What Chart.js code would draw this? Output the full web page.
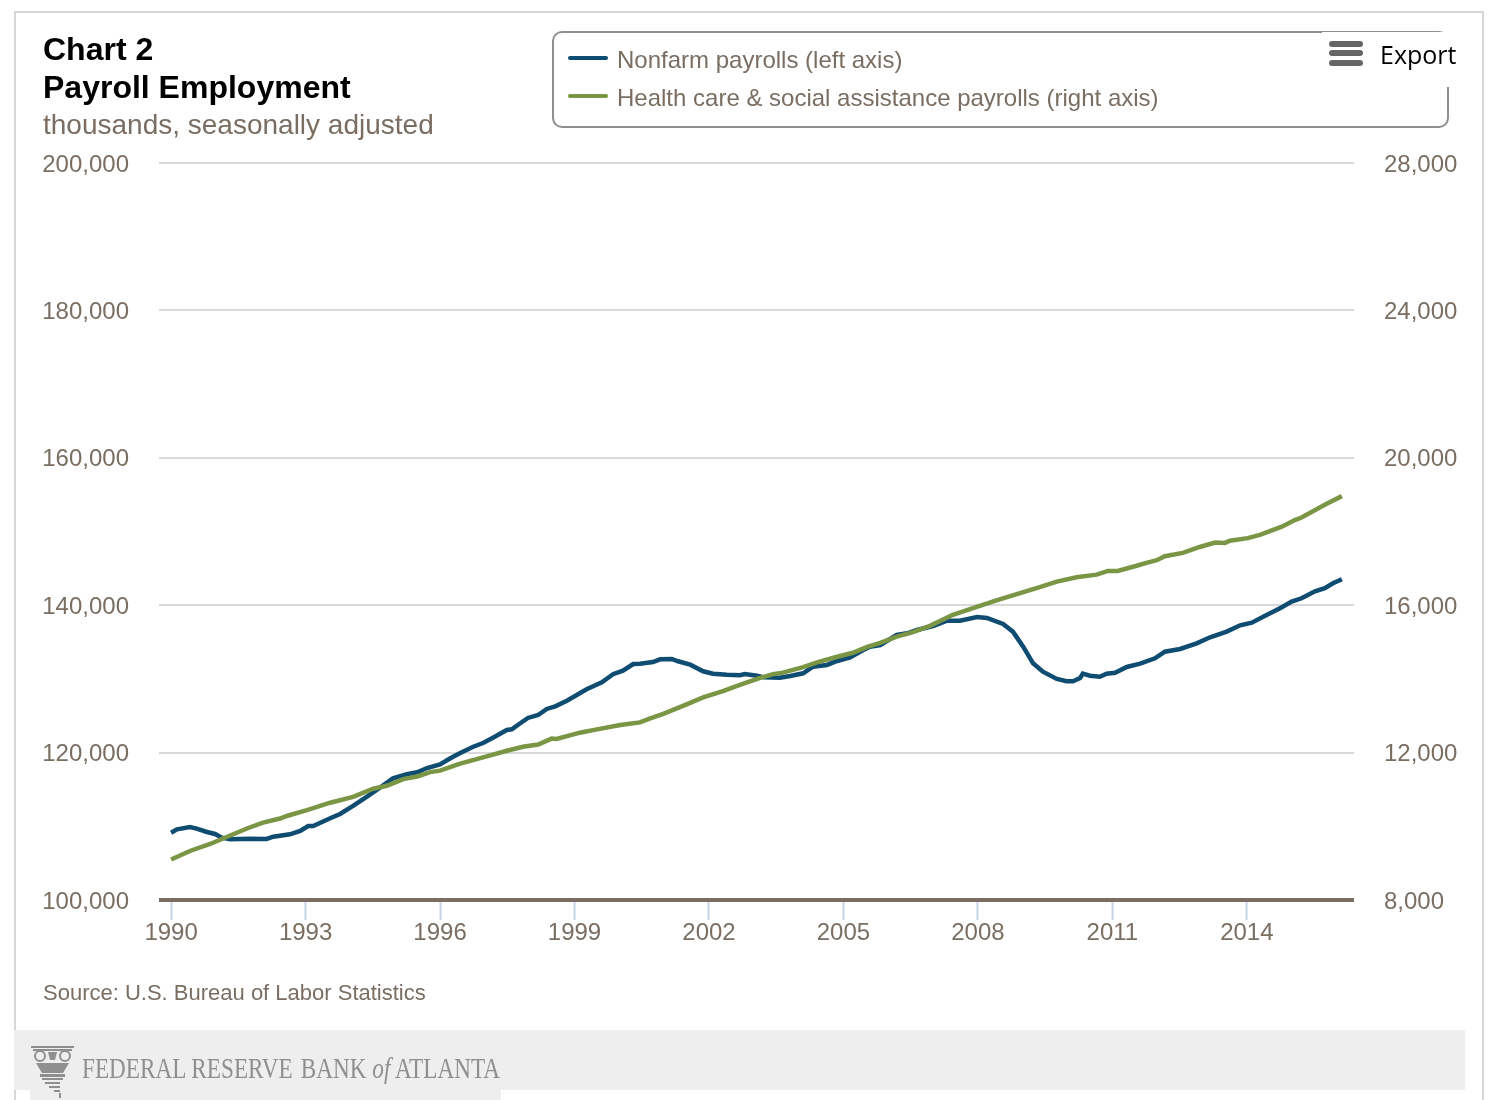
<!DOCTYPE html>
<html>
<head>
<meta charset="utf-8">
<title>Payroll Employment</title>
<script src="https://cdn.jsdelivr.net/npm/chart.js@4/dist/chart.umd.min.js"></script>
<style>
  html, body { margin: 0; padding: 0; background: #fff; }
  #page { position: relative; width: 1492px; height: 1100px; overflow: hidden; font-family: "Liberation Sans", Arial, sans-serif; color: #7a6e62; }
  #page canvas { position: absolute; left: 0; top: 0; }
  .txt { position: absolute; white-space: nowrap; line-height: 1; }
  .frame { position: absolute; background: #d6d6d6; }
  #legendBox { position: absolute; left: 552px; top: 31px; width: 893px; height: 93px; border: 2px solid #8f8f8f; border-radius: 10px; }
  #exportMask { position: absolute; left: 1322px; top: 32px; width: 130px; height: 55px; background: #fff; }
  .swatch { position: absolute; left: 568px; width: 40px; height: 4px; border-radius: 2px; }
  .bar { position: absolute; left: 1329px; width: 34px; height: 6px; border-radius: 3px; background: #666; }
  #band { position: absolute; left: 14px; top: 1030px; width: 1451px; height: 60px; background: #eeeeee; }
  #bandTab { position: absolute; left: 30px; top: 1090px; width: 471px; height: 10px; background: #eeeeee; }
  #wordmark { transform: scaleX(0.8); transform-origin: left center; }
</style>
</head>
<body>
<div id="page">
  <div class="frame" style="left:14px;top:11px;width:1470px;height:2px"></div>
  <div class="frame" style="left:14px;top:11px;width:2px;height:1089px"></div>
  <div class="frame" style="left:1482px;top:11px;width:2px;height:1089px"></div>
  <div id="band"></div>
  <div id="bandTab"></div>

  <canvas id="chart" width="1492" height="1100"></canvas>

  <div class="txt" style="left:43px;top:33px;font-size:32px;font-weight:700;color:#000">Chart 2</div>
  <div class="txt" style="left:43px;top:71px;font-size:32px;font-weight:700;color:#000">Payroll Employment</div>
  <div class="txt" style="left:43px;top:111px;font-size:28px">thousands, seasonally adjusted</div>

  <div id="legendBox"></div>
  <div class="swatch" id="swatchA" style="top:56px"></div>
  <div class="swatch" id="swatchB" style="top:94px"></div>
  <div class="txt" id="labelA" style="left:617px;top:48px;font-size:24px"></div>
  <div class="txt" id="labelB" style="left:617px;top:86px;font-size:24px"></div>

  <div id="exportMask"></div>
  <div class="bar" style="top:41px"></div>
  <div class="bar" style="top:50px"></div>
  <div class="bar" style="top:60px"></div>
  <div class="txt" style="left:1380px;top:42px;font-size:25px;font-family:'Open Sans',sans-serif;color:#000">Export</div>

  <div class="txt" style="left:43px;top:982px;font-size:22px">Source: U.S. Bureau of Labor Statistics</div>

  <!-- Capital ornament beside the bank's wordmark -->
  <svg style="position:absolute;left:30px;top:1046px" width="46" height="52" viewBox="0 0 46 52">
    <g fill="#8f8f8f">
      <rect x="1" y="0" width="43" height="2"/>
      <rect x="3" y="3" width="39" height="2"/>
      <circle cx="10" cy="10" r="5" fill="none" stroke="#8f8f8f" stroke-width="2"/>
      <circle cx="35" cy="10" r="5" fill="none" stroke="#8f8f8f" stroke-width="2"/>
      <path d="M18 6h9l-2 8h-5z"/>
      <path d="M6 17h33l-6 10h-21z"/>
      <rect x="10" y="28" width="25" height="3"/>
      <rect x="12" y="32" width="21" height="2"/>
      <rect x="15" y="36" width="15" height="2"/>
      <rect x="19" y="40" width="11" height="2"/>
      <rect x="24" y="44" width="6" height="2"/>
      <rect x="29" y="47" width="2" height="5"/>
    </g>
  </svg>
  <div class="txt" id="wordmark" style="left:82px;top:1054px;font-size:29px;font-family:'Liberation Serif',serif;color:#8f8f8f">FEDERAL RESERVE <span style="margin-left:3px">BANK</span> <i>of</i> ATLANTA</div>
</div>

<script>
// Axis ticks
const yearTicks = [1990, 1993, 1996, 1999, 2002, 2005, 2008, 2011, 2014];

const seriesNames = ['Nonfarm payrolls (left axis)', 'Health care & social assistance payrolls (right axis)'];

// Nonfarm payrolls, thousands, seasonally adjusted
const nonfarmYears = [
  1990.00, 1990.13, 1990.42, 1990.57, 1990.80, 1990.98, 1991.13, 1991.32, 1991.76, 1992.13,
  1992.28, 1992.65, 1992.88, 1993.06, 1993.17, 1993.55, 1993.77, 1994.06, 1994.37, 1994.66,
  1994.95, 1995.26, 1995.49, 1995.71, 1996.00, 1996.22, 1996.45, 1996.74, 1996.96, 1997.18,
  1997.49, 1997.60, 1997.79, 1997.96, 1998.19, 1998.38, 1998.57, 1998.83, 1999.05, 1999.27,
  1999.61, 1999.86, 2000.08, 2000.31, 2000.46, 2000.75, 2000.91, 2001.17, 2001.31, 2001.58,
  2001.87, 2002.09, 2002.40, 2002.69, 2002.80, 2003.07, 2003.21, 2003.58, 2003.81, 2004.10,
  2004.32, 2004.63, 2004.86, 2005.15, 2005.44, 2005.59, 2005.82, 2006.19, 2006.42, 2006.64,
  2007.00, 2007.31, 2007.60, 2007.98, 2008.20, 2008.56, 2008.78, 2009.01, 2009.23, 2009.45,
  2009.76, 2009.98, 2010.12, 2010.28, 2010.34, 2010.50, 2010.72, 2010.87, 2011.06, 2011.32,
  2011.62, 2011.95, 2012.17, 2012.51, 2012.88, 2013.18, 2013.55, 2013.85, 2014.11, 2014.44,
  2014.74, 2015.00, 2015.22, 2015.52, 2015.74, 2015.92, 2016.12
];
const nonfarmValues = [
  109130, 109590, 109900, 109680, 109230, 108960, 108450, 108240, 108320, 108280,
  108590, 108910, 109360, 110040, 110040, 111090, 111670, 112760, 114020, 115240,
  116510, 117060, 117330, 117910, 118410, 119200, 119950, 120800, 121300, 122020,
  123070, 123160, 123980, 124700, 125100, 125920, 126280, 127040, 127820, 128590,
  129540, 130630, 131110, 132020, 132060, 132290, 132660, 132700, 132390, 131930,
  131030, 130710, 130570, 130490, 130670, 130420, 130220, 130160, 130390, 130760,
  131660, 131890, 132430, 132930, 133920, 134370, 134600, 135960, 136190, 136640,
  137180, 137900, 137900, 138400, 138270, 137450, 136410, 134370, 132120, 130980,
  129990, 129680, 129680, 130120, 130710, 130440, 130300, 130710, 130840, 131620,
  132060, 132800, 133690, 134060, 134830, 135650, 136410, 137270, 137630, 138670,
  139580, 140480, 140940, 141890, 142300, 142970, 143520
];

// Health care & social assistance payrolls, thousands, seasonally adjusted
const healthYears = [
  1990.00, 1990.42, 1990.87, 1991.24, 1991.69, 1992.05, 1992.43, 1992.58, 1993.03, 1993.55,
  1994.06, 1994.51, 1994.81, 1995.18, 1995.49, 1995.78, 1996.00, 1996.45, 1996.96, 1997.49,
  1997.85, 1998.19, 1998.49, 1998.60, 1999.12, 1999.50, 2000.02, 2000.46, 2000.69, 2000.98,
  2001.42, 2001.87, 2002.31, 2002.69, 2003.14, 2003.43, 2003.65, 2004.10, 2004.41, 2004.86,
  2005.21, 2005.53, 2005.82, 2006.19, 2006.55, 2006.93, 2007.44, 2007.89, 2008.43, 2008.94,
  2009.38, 2009.76, 2010.20, 2010.65, 2010.90, 2011.12, 2011.54, 2011.76, 2011.99, 2012.17,
  2012.57, 2012.95, 2013.29, 2013.51, 2013.62, 2014.02, 2014.29, 2014.78, 2015.07, 2015.22,
  2015.78, 2016.12
];
const healthValues = [
  9100, 9330, 9520, 9710, 9940, 10100, 10210, 10280, 10440, 10640,
  10800, 11020, 11100, 11280, 11350, 11470, 11510, 11700, 11870, 12050,
  12160, 12220, 12380, 12370, 12540, 12630, 12750, 12820, 12930, 13050,
  13270, 13500, 13670, 13840, 14030, 14130, 14170, 14320, 14450, 14600,
  14710, 14870, 14980, 15150, 15270, 15440, 15740, 15920, 16140, 16330,
  16490, 16640, 16760, 16830, 16930, 16930, 17070, 17150, 17220, 17330,
  17420, 17580, 17700, 17690, 17750, 17820, 17910, 18130, 18310, 18380,
  18750, 18960
];

const NAVY = '#0f4c72';
const OLIVE = '#7a9544';
const TAUPE = '#7a6e62';
const LABEL_FONT = { family: '"Liberation Sans", Arial, sans-serif', size: 24 };

function pairs(xs, ys) { return xs.map((x, i) => ({ x, y: ys[i] })); }
function thousands(v) { return Number(v).toLocaleString('en-US'); }

document.getElementById('labelA').textContent = seriesNames[0];
document.getElementById('labelB').textContent = seriesNames[1];
document.getElementById('swatchA').style.background = NAVY;
document.getElementById('swatchB').style.background = OLIVE;

new Chart(document.getElementById('chart'), {
  type: 'line',
  data: {
    datasets: [
      { label: seriesNames[0], data: pairs(nonfarmYears, nonfarmValues), yAxisID: 'yLeft',
        borderColor: NAVY, borderWidth: 4.5, pointRadius: 0, tension: 0, order: 1 },
      { label: seriesNames[1], data: pairs(healthYears, healthValues), yAxisID: 'yRight',
        borderColor: OLIVE, borderWidth: 4.5, pointRadius: 0, tension: 0, order: 0 }
    ]
  },
  options: {
    responsive: false,
    animation: false,
    layout: { padding: { top: 163, left: 0, right: 0, bottom: 0 } },
    plugins: { legend: { display: false }, title: { display: false }, tooltip: { enabled: false } },
    scales: {
      x: {
        type: 'linear',
        min: 1989.73,
        max: 2016.39,
        afterBuildTicks(axis) { axis.ticks = yearTicks.map(value => ({ value })); },
        afterFit(axis) { axis.height = 200; },
        grid: { drawOnChartArea: false, tickColor: '#c3d3e5', tickWidth: 2, tickLength: 20 },
        border: { display: false },
        ticks: { color: TAUPE, font: LABEL_FONT, padding: -1, maxRotation: 0, autoSkip: false,
                 callback: v => String(v) }
      },
      yLeft: {
        position: 'left',
        min: 100000,
        max: 200000,
        afterFit(axis) { axis.width = 159; },
        // The baseline at the axis minimum is the heavy axis rule
        grid: {
          color: ctx => ctx.tick.value === 100000 ? TAUPE : '#d9d9d9',
          lineWidth: ctx => ctx.tick.value === 100000 ? 4 : 2,
          drawTicks: false
        },
        border: { display: false },
        ticks: { stepSize: 20000, color: TAUPE, font: LABEL_FONT, padding: 30, labelOffset: 2, callback: thousands }
      },
      yRight: {
        position: 'right',
        min: 8000,
        max: 28000,
        afterFit(axis) { axis.width = 138; },
        grid: { display: false, drawTicks: false },
        border: { display: false },
        ticks: { stepSize: 4000, color: TAUPE, font: LABEL_FONT, padding: 30, labelOffset: 2, callback: thousands }
      }
    }
  }
});
</script>
</body>
</html>
